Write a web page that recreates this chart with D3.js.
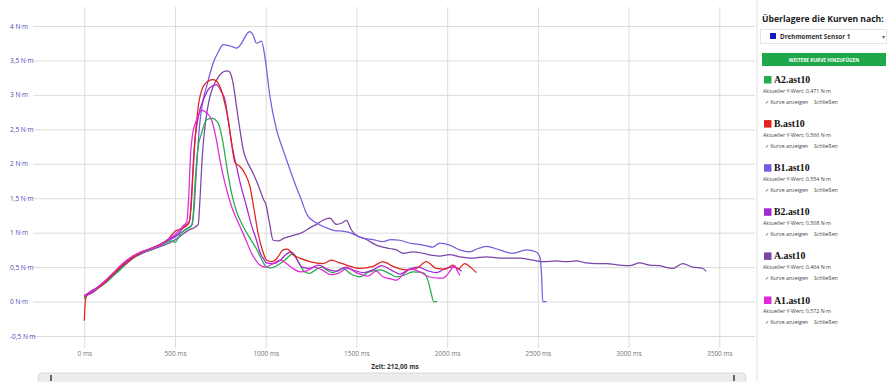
<!doctype html>
<html>
<head>
<meta charset="utf-8">
<script src="https://d3js.org/d3.v7.min.js"></script>
<style>
  body { margin: 0; background: #fff; }
  svg { display: block; }
  .axis path { display: none; }
  .axis line { stroke: #dcdcdc; }
  .y-axis text { fill: #4848b8; font: 6.5px "Open Sans", sans-serif; }
  .x-axis text { fill: #777; font: 6.5px "Open Sans", sans-serif; }
  .small { font: 5.3px "Open Sans", sans-serif; fill: #444; }
</style>
</head>
<body>
<svg id="chart" width="887" height="382"></svg>
<script>
// ---- data ----
const xTicks = [0, 500, 1000, 1500, 2000, 2500, 3000, 3500];
const yTicks = [-0.5, 0, 0.5, 1, 1.5, 2, 2.5, 3, 3.5, 4];

const seriesNames  = ["A2.ast10", "B.ast10", "B1.ast10", "B2.ast10", "A.ast10", "A1.ast10"];
const seriesValues = ["0,471", "0,566", "0,554", "0,508", "0,464", "0,572"];
const seriesColors = ["#22ad4a", "#e0231c", "#7a5ade", "#a526d6", "#7b45a6", "#e02ad6"];

const curveA2 = [[0,0.04],[8,0.1],[30,0.12],[60,0.17],[100,0.24],[130,0.3],[160,0.38],[200,0.47],[240,0.58],[280,0.66],[320,0.72],[360,0.75],[400,0.8],[440,0.84],[480,0.88],[500,0.86],[530,0.98],[560,1.05],[590,1.1],[600,1.25],[610,1.7],[625,2.2],[646,2.44],[674,2.64],[705,2.66],[738,2.59],[765,2.3],[785,1.96],[812,1.57],[840,1.3],[870,1.12],[913,0.92],[950,0.76],[980,0.6],[1004,0.5],[1030,0.49],[1060,0.52],[1096,0.58],[1130,0.66],[1150,0.7],[1175,0.6],[1215,0.43],[1243,0.41],[1280,0.47],[1310,0.5],[1340,0.45],[1370,0.42],[1425,0.48],[1470,0.4],[1518,0.36],[1570,0.43],[1630,0.46],[1680,0.41],[1720,0.36],[1760,0.38],[1810,0.43],[1866,0.42],[1895,0.3],[1912,0.12],[1925,0.0],[1945,0.0]];

const curveB = [[0,-0.28],[4,-0.05],[12,0.08],[40,0.13],[70,0.19],[110,0.27],[160,0.4],[210,0.52],[260,0.62],[310,0.71],[360,0.76],[410,0.82],[460,0.9],[500,1.02],[540,1.06],[575,1.13],[588,1.35],[600,1.9],[612,2.4],[628,2.83],[655,3.12],[683,3.2],[710,3.22],[738,3.17],[765,2.98],[793,2.64],[812,2.3],[830,2.02],[858,1.96],[885,1.86],[913,1.67],[933,1.38],[958,0.99],[985,0.72],[1005,0.6],[1035,0.58],[1065,0.64],[1096,0.75],[1120,0.76],[1150,0.68],[1188,0.63],[1243,0.58],[1316,0.55],[1360,0.6],[1400,0.57],[1445,0.53],[1518,0.48],[1591,0.51],[1646,0.58],[1702,0.51],[1775,0.46],[1830,0.48],[1885,0.58],[1940,0.48],[1990,0.47],[2032,0.53],[2060,0.47],[2096,0.55],[2124,0.51],[2161,0.42]];

const curveB1 = [[0,0.06],[10,0.1],[40,0.14],[80,0.22],[120,0.3],[170,0.42],[220,0.54],[270,0.65],[320,0.72],[370,0.77],[420,0.83],[470,0.89],[520,0.97],[560,1.05],[595,1.12],[605,1.35],[618,1.9],[635,2.55],[655,2.93],[674,3.12],[692,3.3],[710,3.46],[740,3.63],[765,3.73],[790,3.72],[815,3.7],[839,3.68],[867,3.75],[895,3.88],[912,3.92],[930,3.87],[949,3.75],[977,3.78],[995,3.56],[1023,2.98],[1059,2.5],[1096,2.2],[1133,1.92],[1160,1.72],[1190,1.52],[1230,1.25],[1280,1.14],[1335,1.07],[1380,1.03],[1430,1.02],[1463,1.0],[1500,0.96],[1535,0.92],[1590,0.9],[1645,0.87],[1690,0.9],[1739,0.89],[1790,0.85],[1866,0.82],[1920,0.79],[1960,0.85],[2014,0.82],[2069,0.75],[2124,0.72],[2170,0.77],[2216,0.8],[2289,0.75],[2361,0.7],[2436,0.75],[2491,0.72],[2512,0.64],[2520,0.4],[2527,0.0],[2548,0.0]];

const curveB2 = [[0,0.08],[10,0.1],[35,0.15],[75,0.21],[115,0.3],[165,0.42],[215,0.55],[265,0.64],[315,0.72],[365,0.77],[415,0.82],[465,0.9],[515,0.98],[555,1.1],[580,1.17],[590,1.5],[605,2.2],[630,2.7],[660,2.95],[690,3.1],[729,3.15],[755,3.05],[775,2.93],[795,2.6],[815,2.25],[839,1.96],[865,1.66],[894,1.38],[920,1.12],[949,0.89],[970,0.7],[986,0.63],[1004,0.56],[1040,0.55],[1080,0.6],[1110,0.68],[1140,0.72],[1170,0.62],[1200,0.5],[1240,0.48],[1290,0.53],[1340,0.47],[1390,0.44],[1440,0.5],[1490,0.45],[1540,0.42],[1590,0.46],[1640,0.52],[1690,0.46],[1740,0.4],[1790,0.47],[1840,0.5],[1890,0.45],[1940,0.42],[1990,0.48],[2040,0.5],[2080,0.44]];

const curveA = [[0,0.05],[10,0.08],[40,0.12],[80,0.2],[120,0.28],[170,0.4],[220,0.52],[270,0.63],[320,0.7],[370,0.75],[420,0.8],[470,0.85],[520,0.93],[570,1.03],[610,1.08],[628,1.12],[638,1.5],[650,2.1],[668,2.6],[690,2.95],[710,3.12],[730,3.22],[747,3.29],[770,3.34],[790,3.35],[802,3.33],[820,3.17],[839,2.83],[858,2.49],[876,2.2],[900,2.02],[931,1.86],[960,1.68],[985,1.5],[1004,1.38],[1020,1.15],[1041,0.89],[1070,0.88],[1100,0.92],[1151,0.96],[1200,1.0],[1250,1.08],[1280,1.12],[1315,1.18],[1353,1.21],[1390,1.12],[1420,1.14],[1445,1.18],[1470,1.05],[1490,0.98],[1555,0.9],[1610,0.82],[1683,0.77],[1720,0.75],[1757,0.7],[1810,0.72],[1867,0.7],[1920,0.67],[1959,0.66],[2014,0.68],[2069,0.65],[2142,0.63],[2216,0.65],[2289,0.63],[2399,0.63],[2473,0.6],[2528,0.58],[2601,0.59],[2656,0.58],[2711,0.59],[2767,0.56],[2822,0.55],[2877,0.55],[2950,0.53],[3005,0.52],[3060,0.56],[3115,0.53],[3170,0.52],[3244,0.48],[3298,0.55],[3353,0.5],[3409,0.48],[3427,0.44]];

const curveA1 = [[0,0.1],[10,0.09],[35,0.13],[70,0.2],[110,0.29],[160,0.42],[210,0.55],[260,0.65],[310,0.72],[360,0.76],[410,0.81],[460,0.9],[510,1.0],[545,1.1],[565,1.16],[575,1.5],[585,2.1],[598,2.45],[620,2.64],[646,2.78],[674,2.74],[701,2.64],[728,2.35],[747,2.06],[775,1.72],[812,1.38],[858,1.09],[890,0.9],[913,0.75],[940,0.62],[968,0.53],[1000,0.5],[1040,0.55],[1080,0.6],[1110,0.56],[1150,0.48],[1190,0.43],[1230,0.45],[1270,0.5],[1310,0.46],[1360,0.39],[1400,0.41],[1450,0.48],[1500,0.42],[1560,0.37],[1610,0.44],[1646,0.36],[1690,0.33],[1720,0.31],[1760,0.4],[1800,0.47],[1850,0.43],[1900,0.36],[1950,0.34],[1977,0.34],[2010,0.42],[2040,0.52],[2055,0.45],[2070,0.38]];

const curves = [curveA2, curveB, curveB1, curveB2, curveA, curveA1];
const drawOrder = [4, 2, 0, 3, 1, 5];

// ---- chart ----
var svg = d3.select("#chart"),
    plotLeft = 33, plotRight = 755, plotTop = 7, plotBottom = 347;

var xScale = d3.scaleLinear().domain([0, 3500]).range([84.3, 719.3]);
var yScale = d3.scaleLinear().domain([-0.5, 4]).range([336, 26]);

svg.append("g")
  .attr("class", "axis y-axis")
  .attr("transform", "translate(" + plotLeft + ",0)")
  .call(d3.axisLeft(yScale).tickValues(yTicks)
        .tickSize(-(plotRight - plotLeft)).tickPadding(3)
        .tickFormat(function(d){ return String(d).replace(".", ",") + " N\u00b7m"; }))
  .selectAll("text")
  .attr("text-anchor", "start")
  .attr("x", -23);

svg.append("g")
  .attr("class", "axis x-axis")
  .attr("transform", "translate(0," + plotBottom + ")")
  .call(d3.axisBottom(xScale).tickValues(xTicks)
        .tickSize(-(plotBottom - plotTop)).tickPadding(4)
        .tickFormat(function(d){ return d + " ms"; }))
  .selectAll("line").attr("y2", -(plotBottom - plotTop)).attr("y1", 1);

var line = d3.line()
  .x(function(d){ return xScale(d[0]); })
  .y(function(d){ return yScale(d[1]); })
  .curve(d3.curveMonotoneX);

drawOrder.forEach(function(i){
  svg.append("path")
    .datum(curves[i])
    .attr("fill", "none")
    .attr("stroke", seriesColors[i])
    .attr("stroke-width", 1.25)
    .attr("stroke-linejoin", "round")
    .attr("d", line);
});

// cursor time + scrollbar
svg.append("text")
  .attr("x", 395).attr("y", 369)
  .attr("text-anchor", "middle")
  .style("font", "bold 6.5px 'Open Sans', sans-serif").style("fill", "#333")
  .text("Zeit: 212,00 ms");

svg.append("rect")
  .attr("x", 38).attr("y", 373).attr("width", 708).attr("height", 10)
  .attr("rx", 4).attr("fill", "#ececec").attr("stroke", "#d8d8d8");
[50, 733].forEach(function(gx){
  svg.append("rect").attr("x", gx).attr("y", 375).attr("width", 2).attr("height", 6)
    .attr("fill", "#666");
});

// ---- side panel ----
var panel = svg.append("g");
panel.append("line")
  .attr("x1", 757).attr("x2", 757).attr("y1", 0).attr("y2", 382)
  .attr("stroke", "#e2e2e2");

panel.append("text")
  .attr("x", 762).attr("y", 22)
  .style("font", "bold 8.6px 'Open Sans', sans-serif").style("fill", "#222")
  .text("Überlagere die Kurven nach:");

panel.append("rect")
  .attr("x", 760.5).attr("y", 29.5).attr("width", 126).attr("height", 14)
  .attr("fill", "#fff").attr("stroke", "#e4e4e4");
panel.append("rect")
  .attr("x", 770).attr("y", 33).attr("width", 6).attr("height", 6).attr("fill", "#1a1ab8");
panel.append("text")
  .attr("x", 780).attr("y", 38.5)
  .style("font", "bold 6.3px 'Open Sans', sans-serif").style("fill", "#333")
  .text("Drehmoment Sensor 1");
panel.append("text")
  .attr("x", 882).attr("y", 38.5)
  .style("font", "6px 'Open Sans', sans-serif").style("fill", "#666")
  .text("\u25be");

panel.append("rect")
  .attr("x", 762).attr("y", 53).attr("width", 124).attr("height", 13)
  .attr("fill", "#1fa84a");
panel.append("text")
  .attr("x", 824).attr("y", 61.5).attr("text-anchor", "middle")
  .style("font", "bold 4.8px 'Open Sans', sans-serif").style("fill", "#fff")
  .text("WEITERE KURVE HINZUFÜGEN");

var items = panel.selectAll(".item")
  .data(seriesNames)
  .enter().append("g")
  .attr("transform", function(d, i){ return "translate(0," + (82.5 + i * 44.1) + ")"; });

items.append("rect")
  .attr("x", 764).attr("y", -6.5).attr("width", 7.5).attr("height", 7.5)
  .attr("fill", function(d, i){ return seriesColors[i]; });
items.append("text")
  .attr("x", 774).attr("y", 0.5)
  .style("font", "bold 9.8px 'Liberation Serif', serif").style("fill", "#111")
  .text(function(d){ return d; });
items.append("text")
  .attr("class", "small")
  .attr("x", 763).attr("y", 10)
  .text(function(d, i){ return "Aktueller Y-Wert: " + seriesValues[i] + " N\u00b7m"; });
items.append("text")
  .attr("class", "small")
  .attr("x", 765).attr("y", 21)
  .text("\u2713  Kurve anzeigen");
items.append("text")
  .attr("class", "small")
  .attr("x", 814).attr("y", 21)
  .text("Schließen");
</script>
</body>
</html>
